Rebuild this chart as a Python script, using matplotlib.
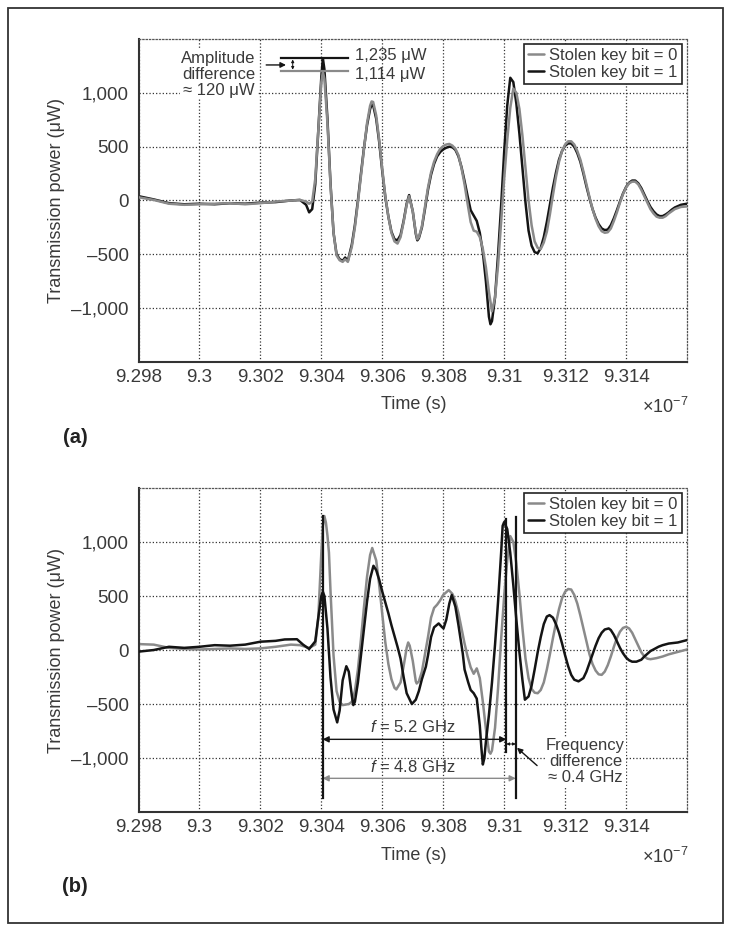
import matplotlib

matplotlib.use("Agg")
import matplotlib.pyplot as plt
from matplotlib.patches import Rectangle
from matplotlib.ticker import FuncFormatter

plt.rcParams["font.family"] = ["Liberation Sans", "DejaVu Sans"]
plt.rcParams["mathtext.fontset"] = "custom"
plt.rcParams["mathtext.rm"] = "Liberation Sans"
plt.rcParams["mathtext.it"] = "Liberation Sans:italic"

# time axis in units of 1e-7 s, power in uW
X_TICKS = [9.298, 9.300, 9.302, 9.304, 9.306, 9.308, 9.310, 9.312, 9.314]
Y_TICKS = [-1000, -500, 0, 500, 1000]
LABELS = ["Stolen key bit = 0", "Stolen key bit = 1"]

# (a) amplitude difference -- (time, power) pairs
a_bit0 = [
    (9.2980, 30), (9.2985, 5), (9.2990, -30), (9.2995, -40), (9.3000, -35), (9.3005, -30),
    (9.3010, -25), (9.3015, -35), (9.3020, -25), (9.3025, -10), (9.3030, 0), (9.3033, 5),
    (9.3035, -10), (9.3036, -30), (9.3037, -10), (9.3038, 200), (9.3039, 650), (9.3040, 1100),
    (9.30405, 1195), (9.3041, 1130), (9.3042, 720), (9.3043, 150), (9.3044, -300), (9.3045, -510),
    (9.3046, -555), (9.3047, -570), (9.30478, -545), (9.30487, -570), (9.3050, -430), (9.3051, -250),
    (9.3052, -20), (9.3053, 230), (9.3054, 480), (9.3055, 720), (9.3056, 880), (9.30565, 920),
    (9.3057, 915), (9.3058, 790), (9.3059, 560), (9.3060, 290), (9.3061, 40), (9.3062, -150),
    (9.3063, -300), (9.3064, -380), (9.3065, -400), (9.3066, -340), (9.3067, -200), (9.3068, -40),
    (9.30688, 40), (9.3070, -100), (9.3071, -300), (9.30715, -360), (9.3072, -340), (9.3073, -240),
    (9.3074, -60), (9.3075, 120), (9.3076, 260), (9.3077, 360), (9.3078, 430), (9.3079, 480),
    (9.3080, 505), (9.3081, 520), (9.3082, 525), (9.3083, 510), (9.3084, 480), (9.3085, 420),
    (9.3086, 300), (9.3087, 150), (9.3088, -30), (9.3089, -200), (9.3090, -280), (9.3091, -290),
    (9.3092, -340), (9.3093, -450), (9.3094, -620), (9.3095, -850), (9.3096, -1030), (9.3097, -900),
    (9.3098, -600), (9.3099, -200), (9.3100, 200), (9.3101, 560), (9.3102, 860), (9.3103, 1040),
    (9.3104, 1000), (9.3105, 850), (9.3106, 600), (9.3107, 300), (9.3108, 0), (9.3109, -230),
    (9.3110, -380), (9.3111, -440), (9.3112, -450), (9.3113, -390), (9.3114, -290), (9.3115, -130),
    (9.3116, 50), (9.3117, 220), (9.3118, 360), (9.3119, 460), (9.3120, 520), (9.3121, 550),
    (9.3122, 550), (9.3123, 520), (9.3124, 460), (9.3125, 380), (9.3126, 270), (9.3127, 150),
    (9.3128, 30), (9.3129, -80), (9.3130, -170), (9.3131, -240), (9.3132, -285), (9.3133, -300),
    (9.3134, -295), (9.3135, -260), (9.3136, -190), (9.3137, -110), (9.3138, -20), (9.3139, 60),
    (9.3140, 120), (9.3141, 160), (9.3142, 175), (9.3143, 175), (9.3144, 150), (9.3145, 100),
    (9.3146, 40), (9.3147, -20), (9.3148, -80), (9.3149, -120), (9.3150, -150), (9.3151, -160),
    (9.3152, -160), (9.3153, -145), (9.3154, -120), (9.3155, -100), (9.3156, -80), (9.3158, -60),
    (9.3160, -55),
]
a_bit1 = [
    (9.2980, 40), (9.2985, 10), (9.2990, -25), (9.2995, -35), (9.3000, -30), (9.3005, -35),
    (9.3010, -25), (9.3015, -30), (9.3020, -20), (9.3025, -15), (9.3030, 0), (9.3033, 5),
    (9.3035, -40), (9.3036, -110), (9.3037, -80), (9.3038, 150), (9.3039, 650), (9.3040, 1150),
    (9.30405, 1320), (9.3041, 1220), (9.3042, 760), (9.3043, 160), (9.3044, -300), (9.3045, -500),
    (9.3046, -545), (9.3047, -560), (9.30478, -530), (9.30487, -560), (9.3050, -410), (9.3051, -230),
    (9.3052, 0), (9.3053, 250), (9.3054, 490), (9.3055, 700), (9.3056, 850), (9.30565, 890),
    (9.3057, 885), (9.3058, 760), (9.3059, 540), (9.3060, 270), (9.3061, 30), (9.3062, -150),
    (9.3063, -290), (9.3064, -360), (9.3065, -370), (9.3066, -320), (9.3067, -190), (9.3068, -30),
    (9.30688, 50), (9.3070, -100), (9.3071, -310), (9.30715, -370), (9.3072, -350), (9.3073, -250),
    (9.3074, -80), (9.3075, 100), (9.3076, 240), (9.3077, 340), (9.3078, 410), (9.3079, 450),
    (9.3080, 475), (9.3081, 490), (9.3082, 500), (9.3083, 495), (9.3084, 470), (9.3085, 410),
    (9.3086, 310), (9.3087, 180), (9.3088, 40), (9.3089, -90), (9.3090, -140), (9.3091, -190),
    (9.3092, -300), (9.3093, -480), (9.3094, -750), (9.3095, -1080), (9.30955, -1150), (9.3096, -1120),
    (9.3097, -900), (9.3098, -500), (9.3099, -50), (9.3100, 450), (9.3101, 880), (9.3102, 1140),
    (9.3103, 1100), (9.3104, 900), (9.3105, 620), (9.3106, 300), (9.3107, -20), (9.3108, -280),
    (9.3109, -420), (9.3110, -480), (9.3111, -490), (9.3112, -440), (9.3113, -340), (9.3114, -200),
    (9.3115, -40), (9.3116, 120), (9.3117, 260), (9.3118, 380), (9.3119, 460), (9.3120, 510),
    (9.3121, 530), (9.3122, 530), (9.3123, 500), (9.3124, 440), (9.3125, 360), (9.3126, 250),
    (9.3127, 130), (9.3128, 20), (9.3129, -80), (9.3130, -160), (9.3131, -220), (9.3132, -260),
    (9.3133, -275), (9.3134, -270), (9.3135, -230), (9.3136, -165), (9.3137, -90), (9.3138, -10),
    (9.3139, 65), (9.3140, 125), (9.3141, 165), (9.3142, 185), (9.3143, 185), (9.3144, 160),
    (9.3145, 115), (9.3146, 55), (9.3147, -5), (9.3148, -60), (9.3149, -100), (9.3150, -130),
    (9.3151, -145), (9.3152, -145), (9.3153, -130), (9.3154, -110), (9.3155, -85), (9.3156, -65),
    (9.3158, -40), (9.3160, -30),
]

# (b) frequency difference
b_bit0 = [
    (9.2980, 55), (9.2985, 50), (9.2990, 20), (9.2995, 10), (9.3000, 5), (9.3005, 10),
    (9.3010, 15), (9.3015, 10), (9.3020, 15), (9.3025, 30), (9.3030, 50), (9.3033, 45),
    (9.3036, 20), (9.3038, 50), (9.3039, 300), (9.3040, 900), (9.30405, 1150), (9.3041, 1240),
    (9.30415, 1180), (9.3042, 1060), (9.30425, 900), (9.3043, 550), (9.3044, -50), (9.3045, -380),
    (9.3046, -480), (9.3047, -510), (9.3048, -505), (9.3049, -500), (9.3050, -480), (9.3051, -380),
    (9.3052, -180), (9.3053, 100), (9.3054, 400), (9.3055, 680), (9.3056, 880), (9.30567, 945),
    (9.3058, 830), (9.3059, 600), (9.3060, 330), (9.3061, 70), (9.3062, -130), (9.3063, -270),
    (9.3064, -350), (9.30646, -365), (9.3066, -300), (9.3067, -150), (9.3068, 20), (9.30685, 70),
    (9.3069, 40), (9.3070, -100), (9.3071, -290), (9.30713, -310), (9.3072, -290), (9.3073, -200),
    (9.3074, -40), (9.3075, 120), (9.3076, 300), (9.3077, 390), (9.3078, 420), (9.3079, 460),
    (9.3080, 510), (9.30818, 555), (9.3083, 520), (9.3084, 450), (9.3085, 340), (9.3086, 200),
    (9.3087, 60), (9.3088, -60), (9.3089, -160), (9.3090, -220), (9.3091, -170), (9.3092, -260),
    (9.3093, -480), (9.3094, -730), (9.3095, -940), (9.30955, -960), (9.3096, -930), (9.3097, -720),
    (9.3098, -350), (9.3099, 100), (9.3100, 500), (9.3101, 830), (9.3102, 1055), (9.3103, 1000),
    (9.3104, 800), (9.3105, 520), (9.3106, 200), (9.3107, -80), (9.3108, -260), (9.3109, -360),
    (9.3110, -395), (9.3111, -400), (9.3112, -370), (9.3113, -300), (9.3114, -180), (9.3115, -40),
    (9.3116, 110), (9.3117, 250), (9.3118, 380), (9.3119, 480), (9.3120, 540), (9.3121, 565),
    (9.3122, 560), (9.3123, 510), (9.3124, 430), (9.3125, 320), (9.3126, 200), (9.3127, 80),
    (9.3128, -40), (9.3129, -130), (9.3130, -190), (9.3131, -225), (9.3132, -230), (9.3133, -200),
    (9.3134, -140), (9.3135, -60), (9.3136, 30), (9.3137, 110), (9.3138, 170), (9.3139, 205),
    (9.3140, 215), (9.3141, 200), (9.3142, 160), (9.3143, 100), (9.3144, 40), (9.3145, -20),
    (9.3146, -60), (9.3147, -80), (9.3148, -85), (9.3149, -80), (9.3150, -75), (9.3152, -60),
    (9.3154, -40), (9.3156, -25), (9.3158, -10), (9.3160, 5),
]
b_bit1 = [
    (9.2980, -15), (9.2985, 0), (9.2990, 30), (9.2995, 20), (9.3000, 30), (9.3005, 45),
    (9.3010, 40), (9.3015, 50), (9.3020, 77), (9.3025, 85), (9.3028, 98), (9.3032, 100),
    (9.3034, 50), (9.3036, 10), (9.3038, 80), (9.3039, 300), (9.3040, 500), (9.30405, 540),
    (9.3041, 500), (9.3042, 200), (9.3043, -250), (9.3044, -550), (9.30452, -670), (9.3046, -560),
    (9.3047, -280), (9.30482, -150), (9.3049, -200), (9.3050, -420), (9.30505, -510), (9.3051, -480),
    (9.3052, -300), (9.3053, -50), (9.3054, 200), (9.3055, 450), (9.3056, 660), (9.30571, 780),
    (9.3058, 740), (9.3059, 650), (9.3060, 540), (9.3061, 440), (9.3062, 340), (9.3063, 230),
    (9.3064, 130), (9.3065, 30), (9.3066, -80), (9.3067, -250), (9.3068, -400), (9.30697, -500),
    (9.3071, -460), (9.3072, -380), (9.3073, -270), (9.30743, -154), (9.3075, -50), (9.3076, 120),
    (9.3077, 210), (9.30785, 246), (9.30795, 215), (9.30801, 200), (9.3081, 280), (9.3082, 430),
    (9.30828, 510), (9.3084, 400), (9.3085, 230), (9.30864, -30), (9.3087, -180), (9.30882, -300),
    (9.3089, -370), (9.3090, -400), (9.3091, -450), (9.3092, -700), (9.30925, -900), (9.3093, -1060),
    (9.30935, -1000), (9.3094, -850), (9.3095, -600), (9.3096, -300), (9.3097, 50), (9.3098, 450),
    (9.3099, 900), (9.30995, 1150), (9.3100, 1185), (9.3101, 1120), (9.3102, 900), (9.3103, 600),
    (9.3104, 280), (9.3105, -20), (9.3106, -280), (9.31068, -460), (9.3108, -430), (9.3109, -330),
    (9.3110, -180), (9.3111, -20), (9.3112, 120), (9.3113, 240), (9.3114, 310), (9.31149, 323),
    (9.3116, 300), (9.3117, 240), (9.3118, 160), (9.3119, 60), (9.3120, -50), (9.3121, -150),
    (9.3122, -230), (9.3123, -275), (9.31244, -290), (9.3126, -260), (9.3127, -200), (9.3128, -120),
    (9.3129, -40), (9.3130, 40), (9.3131, 110), (9.3132, 160), (9.3133, 190), (9.31343, 200),
    (9.3135, 185), (9.3136, 140), (9.3137, 80), (9.3138, 20), (9.3139, -30), (9.3140, -70),
    (9.3141, -95), (9.3142, -108), (9.31434, -108), (9.3145, -90), (9.3146, -60), (9.3148, -10),
    (9.3150, 20), (9.31507, 31), (9.3152, 45), (9.3154, 60), (9.3157, 70), (9.3160, 92),
]

GRAY = "#8a8a8a"
BLACK = "#141414"
TXT = "#3a3a3a"

fig = plt.figure(figsize=(7.29, 9.31), dpi=100)
fig.patches.append(Rectangle((8 / 729, 1 - 923 / 931), 715 / 729, 915 / 931,
                             transform=fig.transFigure, fill=False,
                             edgecolor="#333333", linewidth=1.3))

ax_a = fig.add_axes([0.190, 0.6112, 0.7524, 0.3469])
ax_b = fig.add_axes([0.190, 0.1278, 0.7524, 0.3480])


def draw(ax, series, color, label, z):
    t, p = zip(*series)
    ax.plot(t, p, color=color, lw=1.8, label=label, zorder=z,
            solid_joinstyle="round", solid_capstyle="round")


def style_axes(ax):
    ax.set_xlim(9.298, 9.316)
    ax.set_ylim(-1500, 1500)
    ax.set_xticks(X_TICKS)
    ax.set_yticks(Y_TICKS)
    ax.xaxis.set_major_formatter(FuncFormatter(lambda v, p: f"{round(v, 4):g}"))
    ax.yaxis.set_major_formatter(
        FuncFormatter(lambda v, p: f"{v:,.0f}".replace("-", "\u2013")))
    ax.tick_params(length=0, labelsize=13.5, labelcolor=TXT, pad=5)
    ax.tick_params(axis="y", pad=7)
    ax.grid(True, linestyle=":", color="#333333", linewidth=0.9)
    for s in ("left", "bottom"):
        ax.spines[s].set_color("#333333")
        ax.spines[s].set_linewidth(1.5)
    for s in ("top", "right"):
        ax.spines[s].set_linestyle(":")
        ax.spines[s].set_color("#555555")
        ax.spines[s].set_linewidth(0.9)
    ax.set_xlabel("Time (s)", fontsize=13, color=TXT)
    ax.set_ylabel("Transmission power (\u03bcW)", fontsize=13, color=TXT)
    ax.xaxis.set_label_coords(0.502, -0.133)
    ax.xaxis.label.set_va("center")
    ax.yaxis.set_label_coords(-0.149, 0.5)
    ax.yaxis.label.set_va("center")
    ax.text(0.96, -0.14, "\u00d710$^{-7}$", transform=ax.transAxes, fontsize=13,
            color=TXT, ha="center", va="center")
    leg = ax.legend(loc="upper right", fontsize=12, frameon=True, fancybox=False,
                    framealpha=1, edgecolor="#222222", borderpad=0.25,
                    labelspacing=0.1, handlelength=1.0, handletextpad=0.3,
                    borderaxespad=0.3)
    leg.get_frame().set_linewidth(1.2)
    for t in leg.get_texts():
        t.set_color(TXT)


# ---- (a) ----
draw(ax_a, a_bit0, GRAY, LABELS[0], 3)
draw(ax_a, a_bit1, BLACK, LABELS[1], 2)
style_axes(ax_a)

ax_a.plot([9.30267, 9.30486], [1326, 1326], color=BLACK, lw=1.6, zorder=4)
ax_a.plot([9.30267, 9.30486], [1201, 1201], color=GRAY, lw=1.6, zorder=4)
ax_a.text(9.30512, 1345, "1,235 \u03bcW", fontsize=12, color=TXT, va="center")
ax_a.text(9.30512, 1172, "1,114 \u03bcW", fontsize=12, color=TXT, va="center")
ax_a.annotate("", xy=(9.30284, 1259), xytext=(9.30219, 1259),
              arrowprops=dict(arrowstyle="-|>", color=BLACK, lw=1.0,
                              mutation_scale=8, shrinkA=0, shrinkB=0))
ax_a.annotate("", xy=(9.30306, 1215), xytext=(9.30306, 1310),
              arrowprops=dict(arrowstyle="<|-|>", color=BLACK, lw=0.7,
                              mutation_scale=4, shrinkA=0, shrinkB=0))
ax_a.text(9.30063, 1171, "Amplitude\ndifference\n\u2248 120 \u03bcW", fontsize=12,
          color=TXT, ha="center", va="center", linespacing=1.1,
          bbox=dict(facecolor="white", edgecolor="none", pad=1))

# ---- (b) ----
draw(ax_b, b_bit0, GRAY, LABELS[0], 2)
draw(ax_b, b_bit1, BLACK, LABELS[1], 3)
style_axes(ax_b)

for x, y0, y1 in [(9.30404, -1373, 1240), (9.31007, -942, 1215), (9.31038, -1370, 1230)]:
    ax_b.plot([x, x], [y0, y1], color=BLACK, lw=1.6, zorder=4)

ax_b.annotate("", xy=(9.31007, -827), xytext=(9.30404, -827),
              arrowprops=dict(arrowstyle="<|-|>", color=BLACK, lw=1.0,
                              mutation_scale=9, shrinkA=0, shrinkB=0))
ax_b.annotate("", xy=(9.31038, -1188), xytext=(9.30404, -1188),
              arrowprops=dict(arrowstyle="<|-|>", color=GRAY, lw=1.0,
                              mutation_scale=9, shrinkA=0, shrinkB=0))
ax_b.text(9.30701, -716, "$f$ = 5.2 GHz", fontsize=12, color=TXT,
          ha="center", va="center")
ax_b.text(9.30701, -1080, "$f$ = 4.8 GHz", fontsize=12, color=TXT,
          ha="center", va="center")
ax_b.annotate("", xy=(9.31038, -870), xytext=(9.31007, -870),
              arrowprops=dict(arrowstyle="<|-|>", color=BLACK, lw=0.7,
                              mutation_scale=4, shrinkA=0, shrinkB=0))
ax_b.annotate("", xy=(9.31042, -905), xytext=(9.31108, -1070),
              arrowprops=dict(arrowstyle="-|>", color=BLACK, lw=1.0,
                              mutation_scale=8, shrinkA=0, shrinkB=0))
ax_b.text(9.31267, -1034, "Frequency\ndifference\n\u2248 0.4 GHz", fontsize=12,
          color=TXT, ha="center", va="center", linespacing=1.1,
          bbox=dict(facecolor="white", edgecolor="none", pad=1))

fig.text(75 / 729, 1 - 437 / 931, "(a)", fontsize=14.5, fontweight="bold",
         color="#222222", ha="center", va="center")
fig.text(75 / 729, 1 - 887 / 931, "(b)", fontsize=14.5, fontweight="bold",
         color="#222222", ha="center", va="center")

fig.savefig("out.png", dpi=100)
